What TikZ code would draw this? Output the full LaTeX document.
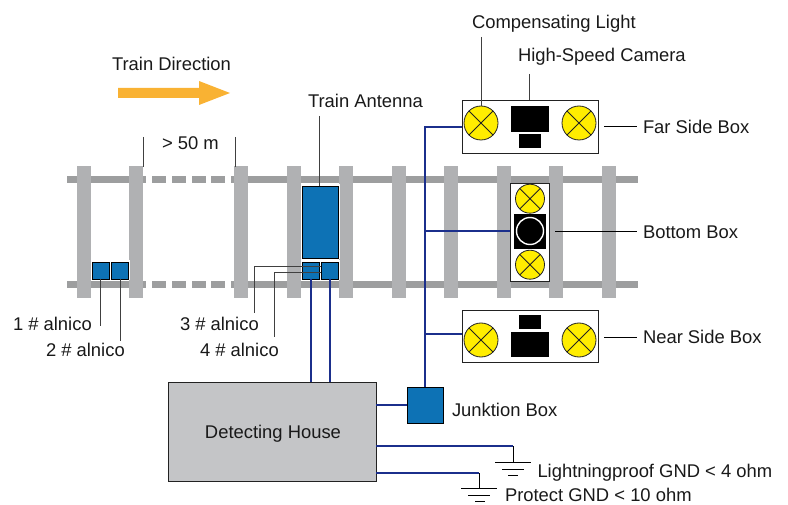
\documentclass[tikz,border=0pt]{standalone}
\usepackage{fontspec}
\setmainfont{Liberation Sans}
\usetikzlibrary{calc}
\definecolor{railc}{HTML}{9D9E9F}
\definecolor{sleeperc}{HTML}{B0B1B3}
\definecolor{bluebox}{HTML}{0D72B5}
\definecolor{wirec}{HTML}{1B2F8C}
\definecolor{housec}{HTML}{C4C5C7}
\definecolor{lampc}{HTML}{FFED00}
\definecolor{arrowc}{HTML}{F9B233}
\definecolor{edgec}{HTML}{222222}
\tikzset{
  rect/.style={rectangle,inner sep=0pt,outer sep=0pt},
  railpart/.style={fill=railc,draw=none},
  sleeper/.style={fill=sleeperc,draw=none},
  bluepart/.style={rect,fill=bluebox,draw=black,line width=0.9pt},
  whitebox/.style={rect,fill=white,draw=edgec,line width=0.9pt},
  housebox/.style={rect,fill=housec,draw=edgec,line width=0.9pt},
  camerapart/.style={rect,fill=black,draw=none},
  lamp/.style={circle,inner sep=0pt,outer sep=0pt,fill=lampc,draw=edgec,line width=0.8pt},
  lead/.style={draw=black!75,line width=0.8pt},
  wire/.style={draw=wirec,line width=1.9pt},
  gnd/.style={draw=black,line width=0.9pt},
  lbl/.style={anchor=base west,inner sep=0pt,outer sep=0pt,font=\fontsize{18.4}{22}\selectfont,text=black!90},
}
\newcommand{\bx}[6]{%
  \pgfmathsetmacro{\bxw}{#5-#3}\pgfmathsetmacro{\bxh}{#6-#4}%
  \pgfmathsetmacro{\bxx}{(#3+#5)/2}\pgfmathsetmacro{\bxy}{(#4+#6)/2}%
  \node[#2,minimum width=\bxw pt,minimum height=\bxh pt] (#1) at (\bxx,\bxy) {};}
\newcommand{\lampat}[4]{%
  \node[lamp,minimum size=#4 pt] (#1) at (#2,#3) {};
  \draw[edgec,line width=0.8pt] (#1.north west) -- (#1.south east) (#1.north east) -- (#1.south west);}
\begin{document}
\begin{tikzpicture}[x=1pt,y=-1pt]
\useasboundingbox (0,0) rectangle (788,505);
% rails
\foreach \ry in {176,281}{
  \fill[railpart] (67,\ry) rectangle (146,\ry+7);
  \foreach \a/\b in {152/166,172/186,192/206,211/225}{\fill[railpart] (\a,\ry) rectangle (\b,\ry+7);}
  \fill[railpart] (231,\ry) rectangle (638,\ry+7);
}
% sleepers
\foreach \sx in {77,129,234,287,339,392,444,497,549,602}{
  \fill[sleeper] (\sx,166) rectangle (\sx+14,298);
}
% train direction arrow
\fill[arrowc] (118,88) -- (199,88) -- (199,81) -- (230,93) -- (199,105) -- (199,98) -- (118,98) -- cycle;
\node[lbl] (tdir) at (112,70.5) {Train Direction};
% distance
\coordinate (d1a) at (143,137); \coordinate (d1b) at (143,167);
\coordinate (d2a) at (235,137); \coordinate (d2b) at (235,167);
\draw[lead] (d1a) -- (d1b);
\draw[lead] (d2a) -- (d2b);
\node[lbl] (dist) at (162,150) {> 50 m};
% white halos
\fill[white] (300.5,184.5) rectangle (339.5,259.5);
\fill[white] (300.5,260.5) rectangle (339.5,280.5);
\fill[white] (90.5,260.5) rectangle (129.5,280.5);
% antenna and alnicos
\bx{ant}{bluepart}{302}{186}{338}{258}
\bx{alA}{bluepart}{92.5}{262.5}{109}{279}
\bx{alB}{bluepart}{111.5}{262.5}{128}{279}
\bx{alC}{bluepart}{302.5}{262.5}{319}{279}
\bx{alD}{bluepart}{321.5}{262.5}{338}{279}
\node[lbl] (antl) at (308,107.5) {Train Antenna};
\coordinate (antc) at (319,116);
\draw[lead] (antc) -- (antc |- ant.north);
\node[lbl] (l1) at (13,331) {1 \# alnico};
\node[lbl] (l2) at (46,357) {2 \# alnico};
\node[lbl] (l3) at (180,331) {3 \# alnico};
\node[lbl] (l4) at (200,357) {4 \# alnico};
\coordinate (c1) at (100.5,326); \coordinate (c2) at (120,341);
\coordinate (c3) at (254,313); \coordinate (c4) at (274,337);
\coordinate (c3h) at (321,266); \coordinate (c4h) at (321,272.7);
\draw[lead] (alA.south -| c1) -- (c1);
\draw[lead] (alB.south -| c2) -- (c2);
\draw[lead] (c3h) -| (c3);
\draw[lead] (c4h) -| (c4);
% house
\bx{house}{housebox}{168}{382}{376}{481}
\node[lbl,anchor=base] (housel) at (273,438.5) {Detecting House};
\draw[wire] (alC.south) -- (alC.south |- house.north);
\draw[wire] (alD.south) -- (alD.south |- house.north);
% side boxes
\bx{far}{whitebox}{462}{100.5}{598.5}{153}
\bx{near}{whitebox}{462}{310}{598.5}{362}
\bx{bot}{whitebox}{510}{183}{549.5}{281}
% junction
\bx{jb}{bluepart}{407}{387}{443}{423}
\node[lbl] (jbl) at (452,416) {Junktion Box};
\coordinate (hj) at (376,405);
\coordinate (nj) at (462,334);
\draw[wire] (hj) -- (hj -| jb.west);
\draw[wire] (jb.north) |- (far.west);
\draw[wire] (jb.north |- 0,231) -- (bot.west |- 0,231);
\draw[wire] (jb.north |- nj) -- (nj);
% far box contents
\lampat{fl}{481}{123}{34}
\lampat{fr}{579}{123}{34}
\bx{fcam}{camerapart}{511}{106}{549}{132}
\bx{flens}{camerapart}{519}{134}{541}{148}
% near box contents
\lampat{nl}{481}{340}{34}
\lampat{nr}{579}{340}{34}
\bx{ncam}{camerapart}{511}{332}{549}{357}
\bx{nlens}{camerapart}{519}{315}{541}{329}
% bottom box contents
\lampat{bt}{530}{198.7}{29}
\lampat{bb}{530}{264.7}{29}
\bx{bcam}{camerapart}{514}{214}{546}{249}
\node[circle,draw=white,line width=1.4pt,fill=black,minimum size=27pt,inner sep=0pt] (bring) at (530,231) {};
% top labels
\node[lbl] (cl) at (472,28.5) {Compensating Light};
\node[lbl] (hc) at (518,61.5) {High-Speed Camera};
\coordinate (clc) at (481,37);
\coordinate (hcc) at (529,74);
\draw[lead] (clc) -- (fl.north);
\draw[lead] (hcc) -- (hcc |- far.north);
% right labels
\node[lbl] (fsl) at (643,134) {Far Side Box};
\node[lbl] (bbl) at (643,238.5) {Bottom Box};
\node[lbl] (nsl) at (643,343.5) {Near Side Box};
\coordinate (fa) at (604,126.5); \coordinate (fb) at (637,126.5);
\coordinate (ba) at (555,231); \coordinate (bf) at (637,231);
\coordinate (na) at (604,337); \coordinate (nb) at (637,337);
\draw[draw=black,line width=0.8pt] (fa) -- (fb);
\draw[draw=black,line width=0.8pt] (ba) -- (bf);
\draw[draw=black,line width=0.8pt] (na) -- (nb);
% grounds
\coordinate (g1) at (376,446); \coordinate (g1t) at (513,462);
\coordinate (g2) at (376,473); \coordinate (g2t) at (479,488);
\draw[wire] (g1) -- (g1 -| g1t);
\draw[gnd] (g1 -| g1t) -- (g1t);
\draw[wire] (g2) -- (g2 -| g2t);
\draw[gnd] (g2 -| g2t) -- (g2t);
\draw[gnd] (495,462) -- (531,462) (502,469) -- (524,469) (508,475) -- (518,475);
\draw[gnd] (461,488) -- (497,488) (468,495) -- (490,495) (475,501) -- (485,501);
\node[lbl] (lg) at (537.5,477) {Lightningproof GND < 4 ohm};
\node[lbl] (pg) at (505,501.5) {Protect GND < 10 ohm};
\end{tikzpicture}
\end{document}
